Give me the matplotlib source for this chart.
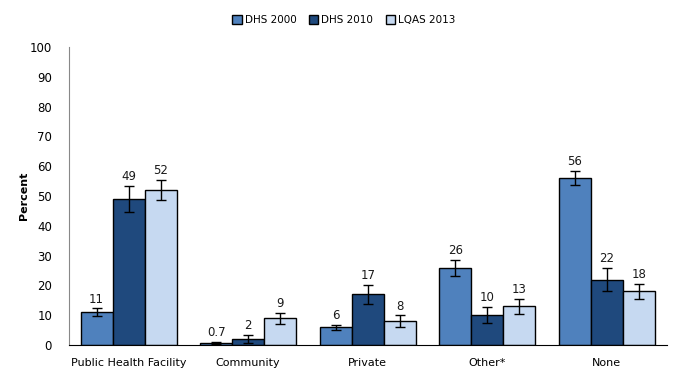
import matplotlib
matplotlib.use("Agg")
import matplotlib.pyplot as plt
import numpy as np

# Chart data
categories = ['Public Health Facility', 'Community', 'Private', 'Other*', 'None']
series_names = ['DHS 2000', 'DHS 2010', 'LQAS 2013']
dhs2000 = [11, 0.7, 6, 26, 56]
dhs2010 = [49, 2, 17, 10, 22]
lqas2013 = [52, 9, 8, 13, 18]
dhs2000_err = [1.3, 0.4, 0.8, 2.7, 2.4]
dhs2010_err = [4.5, 1.3, 3.2, 2.7, 4.0]
lqas2013_err = [3.5, 1.9, 2.0, 2.6, 2.6]
labels2000 = ['11', '0.7', '6', '26', '56']
labels2010 = ['49', '2', '17', '10', '22']
labels2013 = ['52', '9', '8', '13', '18']

colors = ['#4F81BD', '#1F497D', '#C6D9F1']

fig = plt.figure(figsize=(6.81, 3.78), dpi=100)
ax = fig.add_axes([0.101, 0.087, 0.878, 0.789])

x = np.arange(len(categories))
width = 0.268
all_vals = [dhs2000, dhs2010, lqas2013]
all_errs = [dhs2000_err, dhs2010_err, lqas2013_err]
all_labels = [labels2000, labels2010, labels2013]

for i in range(3):
    pos = x + (i - 1) * width
    ax.bar(pos, all_vals[i], width, color=colors[i], edgecolor='black',
           linewidth=1.0, label=series_names[i], zorder=2)
    ax.errorbar(pos, all_vals[i], yerr=all_errs[i], fmt='none', ecolor='black',
                elinewidth=1.0, capsize=3.5, capthick=1.0, zorder=3)
    for p, v, e, t in zip(pos, all_vals[i], all_errs[i], all_labels[i]):
        ax.annotate(t, (p, v + e), xytext=(0, 2), textcoords='offset points',
                    ha='center', va='bottom', fontsize=8.5, color='#1a1a1a')

ax.set_xlim(-0.5, len(categories) - 0.5)
ax.set_ylim(0, 100)
ax.set_yticks(np.arange(0, 101, 10))
ax.set_xticks(x)
ax.set_xticklabels(categories, fontsize=8)
ax.tick_params(axis='y', labelsize=8.5, length=0, pad=12)
ax.tick_params(axis='x', length=0, pad=9)
ax.set_ylabel('Percent', fontsize=8, fontweight='bold')
ax.yaxis.set_label_coords(-0.066, 0.5)

ax.spines['top'].set_visible(False)
ax.spines['right'].set_visible(False)
ax.spines['left'].set_color('#888888')
ax.spines['bottom'].set_color('black')

fig.legend(loc='upper center', bbox_to_anchor=(0.505, 0.985), ncol=3, frameon=False,
           fontsize=7.5, handlelength=0.9, handleheight=0.9, columnspacing=1.2,
           handletextpad=0.3)

fig.savefig('out.png', dpi=100)
